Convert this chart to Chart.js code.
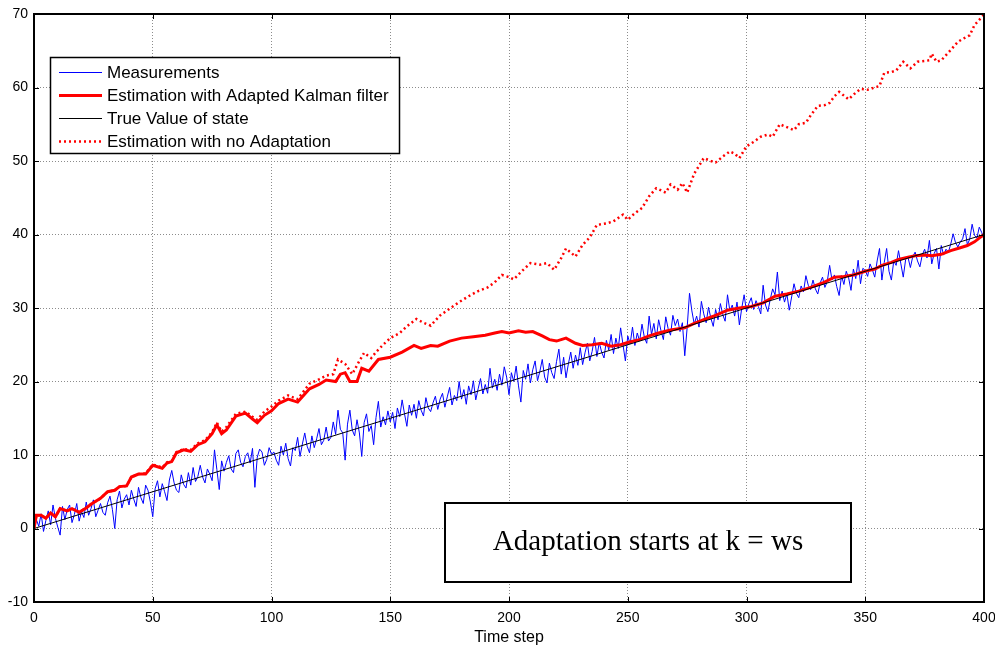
<!DOCTYPE html>
<html>
<head>
<meta charset="utf-8">
<title>Adaptive Kalman filter</title>
<script src="https://cdn.jsdelivr.net/npm/chart.js@4.4.1/dist/chart.umd.min.js"></script>
<style>
  html, body { margin: 0; padding: 0; background: #fff; }
  #chart { display: block; }
</style>
</head>
<body>
<canvas id="chart" width="995" height="645"></canvas>
<script>
// Axis ticks
const xTicks = [0, 50, 100, 150, 200, 250, 300, 350, 400];
const yTicks = [-10, 0, 10, 20, 30, 40, 50, 60, 70];

// Noisy measurements, one per time step (k = 0..400)
const measurements = [
  0.0, 1.2, 0.3, 2.0, -0.4, 1.1, 2.4, 0.5, 3.2, 1.4,
  0.2, -0.9, 3.0, 1.2, 2.6, 3.2, 0.8, 1.9, 3.4, 1.0,
  2.3, 1.5, 3.6, 1.8, 2.7, 3.9, 1.6, 2.5, 3.4, 2.2,
  1.8, 3.5, 4.4, 2.6, 0.0, 3.9, 5.1, 2.8, 4.0, 4.6,
  3.2, 5.2, 4.0, 3.0, 5.6, 4.2, 3.4, 5.9, 5.2, 3.6,
  1.6, 5.4, 6.5, 4.3, 6.1, 5.0, 3.8, 6.6, 7.9, 6.2,
  5.2, 4.9, 7.3, 6.0, 5.5, 7.6, 5.9, 8.3, 6.4, 7.1,
  8.6, 7.0, 6.2, 8.1, 7.4, 6.5, 10.7, 8.0, 5.3, 9.2,
  7.8, 9.0, 9.9, 8.1, 7.6, 10.2, 10.7, 9.0, 8.4, 9.8,
  10.3, 8.9, 10.9, 5.6, 9.7, 10.8, 10.4, 8.6, 9.4, 11.0,
  10.1, 10.4, 9.3, 8.6, 11.2, 10.0, 11.6, 9.5, 8.5, 11.0,
  10.6, 12.4, 9.8, 11.5, 13.0, 11.2, 10.3, 12.6, 11.0, 12.2,
  13.6, 11.4, 12.0, 13.8, 11.9, 12.4, 14.5, 12.8, 16.1, 13.5,
  13.0, 9.3, 14.2, 16.1, 13.4, 12.6, 14.8, 13.0, 9.8, 14.4,
  15.6, 13.2, 14.0, 11.4, 15.1, 17.3, 13.8, 15.2, 14.1, 16.0,
  14.5, 15.8, 13.6, 16.4, 15.2, 17.5, 15.6, 13.9, 16.8, 15.4,
  16.9, 15.0, 17.4, 16.1, 15.3, 17.8, 16.4, 15.9, 17.1, 18.0,
  16.2, 17.6, 18.4, 16.5, 17.9, 19.2, 16.8, 18.1, 17.4, 20.0,
  17.6, 18.9, 16.9, 19.4, 18.2, 20.1, 17.5, 19.0, 20.4, 18.3,
  19.6, 18.4, 21.8, 19.1, 20.3, 18.8, 21.0, 19.5, 22.0, 20.6,
  18.2, 21.2, 20.0, 22.1, 19.4, 17.2, 21.5, 20.3, 22.4, 19.8,
  21.6, 22.8, 20.1, 21.4, 23.0, 20.6, 19.8, 22.5, 21.2, 20.4,
  22.7, 24.4, 21.0, 23.3, 20.5, 22.4, 24.0, 21.8, 23.6, 22.2,
  24.6, 22.3, 23.9, 25.2, 22.8, 24.1, 26.0, 23.4, 25.3, 24.0,
  23.2, 25.6, 24.3, 26.4, 23.8, 25.9, 24.5, 27.3, 25.0, 22.8,
  26.2, 25.1, 27.4, 24.9, 26.6, 25.5, 27.8, 26.0, 25.2, 28.9,
  26.4, 27.9, 25.8, 28.4, 26.9, 25.7, 28.8, 27.2, 26.3, 29.0,
  27.6, 28.5, 26.8, 28.0, 23.5, 27.3, 32.0, 29.6, 27.8, 28.9,
  27.4, 30.9, 29.2, 28.0, 30.1, 28.6, 27.5, 29.8, 28.4, 30.6,
  29.1, 28.2, 31.8, 29.6, 30.4, 28.9, 30.8, 27.7, 30.0, 31.8,
  29.5, 30.6, 31.4, 29.8, 31.0, 30.2, 29.2, 33.1, 30.4, 29.5,
  31.2, 32.6, 31.8, 34.9, 31.0, 32.3, 30.8, 31.9, 29.7, 31.5,
  33.3, 32.0, 31.4, 33.0, 32.2, 34.4, 33.1, 32.5, 33.8, 32.6,
  31.9, 33.4, 34.2, 32.8, 33.6, 35.8, 33.8, 34.5, 32.9, 31.7,
  34.4, 33.2, 35.0, 34.1, 32.4, 35.3, 34.0, 36.5, 33.3, 35.4,
  35.1, 34.3, 36.0, 35.2, 34.2, 36.4, 38.1, 33.8, 36.2, 38.1,
  35.0, 33.8, 36.4, 35.8, 37.8, 36.0, 34.2, 36.6, 36.9, 35.5,
  37.0, 37.6, 36.4, 35.6, 37.2, 38.0, 36.8, 39.2, 36.0, 37.4,
  38.1, 35.3, 38.5, 37.2, 38.0, 37.6, 38.7, 40.1, 38.9, 38.3,
  39.0, 39.4, 40.8, 38.6, 39.4, 41.4, 39.9, 39.5, 41.0, 40.3, 39.4
];

// Estimate with the adapted Kalman filter
const adaptedSteps = [
  0, 1, 3, 5, 7, 9, 11, 14, 16, 19, 22, 24, 28, 31, 34, 36, 39, 41, 44, 47,
  50, 54, 56, 58, 60, 63, 66, 69, 72, 75, 77, 79, 81, 85, 89, 92, 94, 97, 100, 103,
  107, 111, 116, 120, 123, 127, 129, 131, 133, 136, 138, 141, 145, 150, 155, 160, 163, 167, 170, 175,
  180, 185, 190, 194, 197, 200, 204, 207, 210, 214, 217, 220, 224, 228, 231, 235, 239, 243, 247, 250,
  255, 259, 263, 268, 274, 278, 282, 287, 292, 297, 302, 307, 312, 317, 322, 327, 332, 337, 341, 345,
  350, 354, 357, 361, 364, 368, 371, 375, 378, 382, 386, 390, 393, 396, 398, 400
];
const adaptedValues = [
  0.0, 1.8, 1.8, 1.4, 2.1, 1.6, 2.7, 2.4, 2.7, 2.2, 2.8, 3.3, 4.1, 5.0, 5.2, 5.7, 5.8, 7.0, 7.4, 7.4,
  8.6, 8.2, 8.9, 9.1, 10.3, 10.7, 10.5, 11.4, 11.8, 12.9, 14.1, 12.9, 13.4, 15.3, 15.7, 14.9, 14.4, 15.4, 16.0, 17.0,
  17.6, 17.2, 19.0, 19.6, 20.2, 20.0, 21.0, 21.2, 20.0, 20.0, 21.8, 21.4, 23.0, 23.3, 24.0, 24.9, 24.5, 24.9, 24.8, 25.5,
  25.9, 26.1, 26.3, 26.6, 26.8, 26.6, 26.9, 26.7, 26.8, 26.2, 25.7, 25.5, 25.9, 25.2, 24.9, 25.0, 25.2, 24.8, 25.0, 25.3,
  25.7, 26.2, 26.6, 27.0, 27.3, 27.9, 28.4, 29.0, 29.7, 30.0, 30.2, 30.7, 31.6, 31.9, 32.3, 32.8, 33.4, 34.2, 34.3, 34.5,
  35.0, 35.3, 35.8, 36.2, 36.6, 36.9, 37.1, 37.2, 37.1, 37.3, 37.8, 38.2, 38.5, 39.0, 39.5, 40.0
];

// True state, a straight ramp
const trueSteps = [0, 400];
const trueValues = [0, 40];

// Estimate without adaptation
const plainSteps = [
  0, 1, 3, 5, 7, 9, 11, 14, 16, 19, 22, 24, 28, 31, 34, 36, 39, 41, 44, 47,
  50, 54, 56, 58, 60, 63, 66, 69, 72, 75, 77, 79, 81, 85, 89, 92, 94, 97, 100, 103,
  107, 111, 116, 120, 123, 126, 128, 131, 134, 137, 139, 142, 144, 147, 150, 154, 157, 161, 164, 167,
  171, 175, 179, 183, 187, 191, 194, 197, 200, 202, 206, 209, 213, 216, 219, 222, 224, 228, 231, 234,
  237, 241, 244, 248, 250, 253, 256, 259, 262, 266, 268, 271, 273, 275, 278, 282, 285, 287, 290, 293,
  295, 297, 300, 303, 306, 309, 311, 314, 317, 320, 322, 325, 327, 330, 333, 335, 337, 339, 343, 346,
  348, 351, 354, 356, 358, 361, 363, 366, 369, 372, 375, 377, 378, 380, 382, 384, 386, 389, 391, 394,
  396, 398, 400
];
const plainValues = [
  0.0, 1.8, 1.8, 1.4, 2.1, 1.6, 2.7, 2.4, 2.7, 2.2, 2.8, 3.3, 4.1, 5.0, 5.2, 5.7, 5.8, 7.0, 7.4, 7.5,
  8.7, 8.3, 9.0, 9.2, 10.4, 10.8, 10.7, 11.6, 12.0, 13.1, 14.4, 13.2, 13.8, 15.6, 15.9, 15.2, 14.8, 15.9, 16.6, 17.4,
  18.1, 17.6, 19.7, 20.3, 20.8, 21.0, 23.0, 22.4, 21.0, 22.8, 23.9, 23.2, 24.0, 25.0, 25.9, 26.6, 27.5, 28.5, 28.0, 27.6,
  29.0, 29.9, 30.8, 31.6, 32.3, 32.8, 33.5, 34.5, 34.2, 33.9, 35.2, 36.1, 35.9, 36.1, 35.2, 36.8, 38.1, 37.0, 38.6, 39.6,
  41.3, 41.5, 41.8, 42.7, 42.0, 42.9, 43.6, 45.2, 46.3, 45.7, 46.8, 46.1, 47.0, 45.7, 48.3, 50.4, 50.0, 49.8, 50.6, 51.3,
  51.0, 50.4, 52.0, 52.6, 53.3, 53.6, 53.3, 55.0, 54.6, 54.2, 55.0, 55.2, 56.2, 57.5, 57.6, 57.9, 58.8, 59.4, 58.4, 59.3,
  59.8, 59.7, 60.0, 60.2, 62.0, 62.1, 62.3, 63.5, 62.6, 63.5, 63.6, 63.7, 64.6, 63.5, 63.7, 64.4, 65.1, 66.2, 66.6, 67.1,
  68.5, 69.2, 69.9
];

const legendLabels = [
  'Measurements',
  'Estimation with Adapted Kalman filter',
  'True Value of state',
  'Estimation with no Adaptation'
];
const noteText = 'Adaptation starts at k = ws';

document.addEventListener('DOMContentLoaded', () => {
  const sansFont = '"Liberation Sans", Arial, sans-serif';

  const toPoints = (xs, ys) => xs.map((x, i) => ({ x, y: ys[i] }));

  // Frame, inward tick marks, legend and the text box on top of the plot
  const overlayPlugin = {
    id: 'overlay',
    afterDraw(chart) {
      const { ctx, chartArea: a, scales } = chart;
      const xs = scales.x;
      const ys = scales.y;
      ctx.save();

      ctx.strokeStyle = '#000';
      ctx.lineWidth = 1;
      ctx.beginPath();
      xTicks.forEach(v => {
        const px = Math.round(xs.getPixelForValue(v)) + 0.5;
        ctx.moveTo(px, a.bottom); ctx.lineTo(px, a.bottom - 5);
        ctx.moveTo(px, a.top); ctx.lineTo(px, a.top + 5);
      });
      yTicks.forEach(v => {
        const py = Math.round(ys.getPixelForValue(v)) + 0.5;
        ctx.moveTo(a.left, py); ctx.lineTo(a.left + 5, py);
        ctx.moveTo(a.right, py); ctx.lineTo(a.right - 5, py);
      });
      ctx.stroke();

      ctx.lineWidth = 2;
      ctx.strokeRect(a.left, a.top, a.right - a.left, a.bottom - a.top);

      // legend
      const lx = 50, ly = 57, lw = 349, lh = 96;
      ctx.fillStyle = '#fff';
      ctx.fillRect(lx, ly, lw, lh);
      ctx.lineWidth = 1.5;
      ctx.strokeRect(lx + 0.5, ly + 0.5, lw, lh);
      ctx.font = '17px ' + sansFont;
      ctx.textBaseline = 'middle';
      ctx.textAlign = 'left';
      const rowY = [72, 95, 118, 141];
      chart.data.datasets.forEach((ds, i) => {
        const y = rowY[i] + 0.5;
        ctx.save();
        ctx.strokeStyle = ds.borderColor;
        ctx.lineWidth = ds.borderWidth;
        ctx.setLineDash(ds.borderDash || []);
        ctx.beginPath();
        ctx.moveTo(59, y);
        ctx.lineTo(102, y);
        ctx.stroke();
        ctx.restore();
        ctx.fillStyle = '#000';
        ctx.fillText(legendLabels[i], 107, rowY[i] + 1);
      });

      // annotation box
      const bx = 445, by = 503, bw = 406, bh = 79;
      ctx.fillStyle = '#fff';
      ctx.fillRect(bx, by, bw, bh);
      ctx.strokeStyle = '#000';
      ctx.lineWidth = 2;
      ctx.strokeRect(bx, by, bw, bh);
      ctx.font = '29px "Liberation Serif", "Times New Roman", serif';
      ctx.textAlign = 'center';
      ctx.fillStyle = '#000';
      ctx.fillText(noteText, bx + bw / 2, by + bh / 2);

      ctx.restore();
    }
  };

  new Chart(document.getElementById('chart'), {
    type: 'line',
    data: {
      datasets: [
        {
          label: legendLabels[0],
          data: measurements.map((v, k) => ({ x: k, y: v })),
          borderColor: '#0000ff',
          borderWidth: 1,
          order: 4
        },
        {
          label: legendLabels[1],
          data: toPoints(adaptedSteps, adaptedValues),
          borderColor: '#ff0000',
          borderWidth: 3,
          order: 3
        },
        {
          label: legendLabels[2],
          data: toPoints(trueSteps, trueValues),
          borderColor: '#000000',
          borderWidth: 1,
          order: 2
        },
        {
          label: legendLabels[3],
          data: toPoints(plainSteps, plainValues),
          borderColor: '#ff0000',
          borderWidth: 2.5,
          borderDash: [2, 3],
          order: 1
        }
      ]
    },
    options: {
      responsive: false,
      animation: false,
      events: [],
      layout: { padding: { top: 14, right: 11, left: 0, bottom: 0 } },
      elements: {
        point: { radius: 0 },
        line: { tension: 0, fill: false }
      },
      plugins: {
        legend: { display: false },
        tooltip: { enabled: false }
      },
      scales: {
        x: {
          type: 'linear',
          min: 0,
          max: 400,
          afterBuildTicks: scale => { scale.ticks = xTicks.map(value => ({ value })); },
          afterFit: scale => {
            scale.height = 43;
            scale.paddingLeft = 0;
            scale.paddingRight = 0;
          },
          grid: {
            color: '#8c8c8c',
            lineWidth: 1,
            drawTicks: false
          },
          border: { display: false, dash: [1, 2] },
          ticks: {
            color: '#000',
            font: { family: sansFont, size: 14 },
            padding: 8,
            maxRotation: 0
          },
          title: {
            display: true,
            text: 'Time step',
            color: '#000',
            font: { family: sansFont, size: 16 },
            padding: { top: 0, bottom: -2 }
          }
        },
        y: {
          type: 'linear',
          min: -10,
          max: 70,
          afterBuildTicks: scale => { scale.ticks = yTicks.map(value => ({ value })); },
          afterFit: scale => {
            scale.width = 34;
            scale.paddingTop = 0;
            scale.paddingBottom = 0;
          },
          grid: {
            color: '#8c8c8c',
            lineWidth: 1,
            drawTicks: false
          },
          border: { display: false, dash: [1, 2] },
          ticks: {
            color: '#000',
            font: { family: sansFont, size: 14 },
            padding: 6
          }
        }
      }
    },
    plugins: [overlayPlugin]
  });
});
</script>
</body>
</html>
